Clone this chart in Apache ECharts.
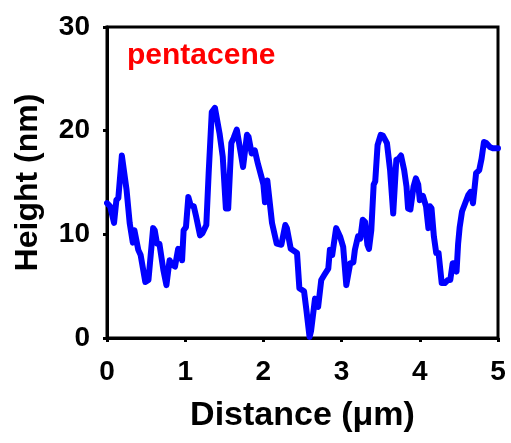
<!DOCTYPE html>
<html>
<head>
<meta charset="utf-8">
<script src="https://cdn.jsdelivr.net/npm/echarts@6/dist/echarts.min.js"></script>
<style>
  html, body { margin: 0; padding: 0; background: #fff; }
  #chart { width: 511px; height: 443px; }
</style>
</head>
<body>
<div id="chart"></div>
<script>
// AFM line profile of a pentacene film: height vs. distance along the scan
const distance = [
  0.00, 0.04, 0.09, 0.12, 0.145, 0.19, 0.21, 0.25, 0.29, 0.33, 0.35, 0.37, 0.40, 0.43, 0.49, 0.53,
  0.59, 0.61, 0.64, 0.67, 0.72, 0.76, 0.80, 0.83, 0.87, 0.91, 0.94, 0.96, 0.98, 1.01, 1.04, 1.07,
  1.11, 1.14, 1.19, 1.22, 1.27, 1.30, 1.32, 1.34, 1.38, 1.44, 1.48, 1.52, 1.55, 1.59, 1.62, 1.66,
  1.70, 1.74, 1.76, 1.79, 1.81, 1.85, 1.89, 1.93, 1.98, 2.00, 2.02, 2.05, 2.07, 2.11, 2.17, 2.23,
  2.28, 2.30, 2.35, 2.43, 2.46, 2.52, 2.55, 2.59, 2.61, 2.66, 2.70, 2.74, 2.78, 2.83, 2.85, 2.88,
  2.93, 2.98, 3.02, 3.06, 3.08, 3.11, 3.15, 3.17, 3.21, 3.24, 3.27, 3.30, 3.33, 3.35, 3.38, 3.41,
  3.43, 3.46, 3.50, 3.53, 3.58, 3.62, 3.66, 3.68, 3.70, 3.73, 3.76, 3.80, 3.83, 3.85, 3.88, 3.92,
  3.95, 3.98, 4.00, 4.04, 4.08, 4.11, 4.13, 4.15, 4.18, 4.21, 4.24, 4.28, 4.32, 4.36, 4.39, 4.42,
  4.45, 4.47, 4.49, 4.51, 4.54, 4.58, 4.62, 4.65, 4.68, 4.72, 4.76, 4.79, 4.82, 4.85, 4.90, 4.94,
  4.98, 5.00
];
const height = [
  13.0, 12.7, 11.1, 13.3, 13.5, 17.6, 17.5, 14.3, 11.1, 9.2, 10.4, 10.4, 8.5, 8.0, 5.4, 5.6,
  10.6, 10.4, 9.1, 9.1, 6.6, 5.1, 7.5, 7.1, 6.9, 8.6, 8.5, 7.5, 10.4, 10.7, 13.6, 12.8,
  12.7, 11.7, 9.9, 10.1, 10.9, 15.9, 16.0, 21.8, 22.2, 19.7, 17.5, 12.5, 12.5, 18.8, 19.3, 20.1,
  18.3, 16.5, 16.5, 19.6, 19.4, 17.8, 18.1, 16.8, 15.4, 14.8, 13.1, 15.2, 15.2, 11.1, 9.1, 9.0,
  10.9, 10.6, 8.6, 8.2, 4.8, 4.5, 2.7, 0.1, 0.7, 3.8, 3.0, 5.6, 6.1, 6.7, 8.5, 8.0,
  10.6, 9.8, 8.8, 5.1, 5.0, 7.2, 7.3, 8.5, 9.8, 9.6, 11.4, 11.2, 9.0, 8.6, 10.4, 14.8,
  15.1, 18.6, 19.6, 19.5, 18.8, 16.2, 12.0, 11.9, 17.2, 17.3, 17.6, 16.2, 14.6, 12.5, 12.4, 14.6,
  15.4, 14.8, 13.3, 13.7, 12.7, 10.6, 12.7, 12.5, 9.8, 8.2, 8.2, 5.3, 5.3, 5.6, 5.6, 7.2,
  7.2, 6.4, 9.1, 10.7, 12.2, 13.0, 13.8, 14.1, 13.0, 15.9, 16.2, 17.3, 18.9, 18.8, 18.4, 18.3,
  18.3, 18.3
];
const xTitle = 'Distance (μm)';
const yTitle = 'Height (nm)';
const sampleName = 'pentacene';

const FONT = '"Liberation Sans", Arial, sans-serif';
const profile = distance.map((d, i) => [d, height[i]]);

const chart = echarts.init(document.getElementById('chart'));
chart.setOption({
  animation: false,
  backgroundColor: '#ffffff',
  grid: {
    left: 107, right: 13, top: 27, bottom: 105,
    show: true, borderColor: '#000', borderWidth: 3, backgroundColor: 'transparent'
  },
  xAxis: {
    type: 'value', min: 0, max: 5, interval: 1,
    name: xTitle, nameLocation: 'middle', nameGap: 61,
    nameTextStyle: { fontFamily: FONT, fontWeight: 'bold', fontSize: 34, color: '#000' },
    axisLine: { show: true, onZero: false, lineStyle: { color: '#000', width: 3 } },
    axisTick: { show: true, inside: false, length: 4, lineStyle: { color: '#000', width: 3 } },
    axisLabel: { margin: 20, fontFamily: FONT, fontWeight: 'bold', fontSize: 28, color: '#000' },
    splitLine: { show: false }
  },
  yAxis: {
    type: 'value', min: 0, max: 30, interval: 10,
    name: yTitle, nameLocation: 'middle', nameGap: 63, nameRotate: 90,
    nameTextStyle: { fontFamily: FONT, fontWeight: 'bold', fontSize: 32, color: '#000' },
    axisLine: { show: true, onZero: false, lineStyle: { color: '#000', width: 3 } },
    axisTick: { show: true, inside: false, length: 4, lineStyle: { color: '#000', width: 3 } },
    axisLabel: { margin: 17, fontFamily: FONT, fontWeight: 'bold', fontSize: 28, color: '#000' },
    splitLine: { show: false }
  },
  graphic: [{
    type: 'text', left: 127, top: 41,
    style: { text: sampleName, fill: '#ff0000', font: 'bold 30px ' + FONT }
  }],
  series: [{
    type: 'line',
    data: profile,
    showSymbol: false,
    smooth: false,
    clip: true,
    lineStyle: { color: '#0000ff', width: 6, join: 'round', cap: 'round' }
  }]
});
</script>
</body>
</html>
